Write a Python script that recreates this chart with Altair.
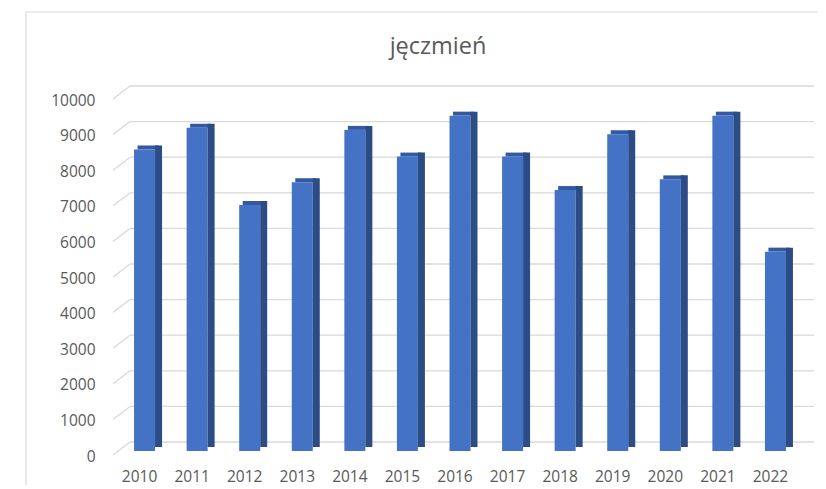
import altair as alt
import pandas as pd

# ---- data ----
years = ["2010", "2011", "2012", "2013", "2014", "2015", "2016",
         "2017", "2018", "2019", "2020", "2021", "2022"]
values = [8470, 9080, 6910, 7550, 9020, 8270, 9420,
          8270, 7330, 8900, 7630, 9420, 5600]
y_ticks = [0, 1000, 2000, 3000, 4000, 5000, 6000, 7000, 8000, 9000, 10000]
title_text = "jęczmień"

df = pd.DataFrame({"rok": years, "v": values})
ticks_df = pd.DataFrame({"t": y_ticks})
one = pd.DataFrame({"a": [0]})

W, H = 694, 356
FRONT = "#4472C4"
SIDE = "#2C4C86"
TOPC = "#3359A3"
GRID = "#D9D9D9"
TEXT = "#595959"
FONT = "Open Sans"

xscale = alt.Scale(domain=years, paddingInner=0, paddingOuter=0.1)
yscale = alt.Scale(domain=[0, 10000], nice=False, zero=True)

AX = alt.Axis(title=None, labelAngle=0, domain=False, ticks=False,
              labelPadding=18, labelOffset=-5, labelColor=TEXT,
              labelFont=FONT, labelFontSize=15.5)
AY = alt.Axis(title=None, values=y_ticks, format="d", grid=False,
              domain=False, ticks=False, labelPadding=18, labelOffset=5,
              labelColor=TEXT, labelFont=FONT, labelFontSize=15.5)

X_enc = alt.X("rok:N", scale=xscale, sort=None, axis=AX)
Y_enc = alt.Y("v:Q", scale=yscale, axis=AY)

border_left = alt.Chart(one).mark_rule(color=GRID, strokeWidth=1.2).encode(
    x=alt.value(-87), y=alt.value(-83), y2=alt.value(500))
border_top = alt.Chart(one).mark_rule(color=GRID, strokeWidth=1.2).encode(
    x=alt.value(-87), x2=alt.value(800), y=alt.value(-83))

grid = alt.Chart(ticks_df).mark_rule(color=GRID, strokeWidth=1.3, yOffset=-9, y2Offset=-9).encode(
    y=alt.Y("t:Q", scale=yscale, axis=AY),
    y2=alt.Y2("t"),
    x=alt.value(17), x2=alt.value(701))

slants = alt.Chart(ticks_df).mark_rule(color=GRID, strokeWidth=1.3, yOffset=4, y2Offset=-9).encode(
    y=alt.Y("t:Q", scale=yscale, axis=AY),
    y2=alt.Y2("t"),
    x=alt.value(0), x2=alt.value(17))

top_face = alt.Chart(df).mark_bar(color=TOPC, width=21, xOffset=3.5, yOffset=-4, y2Offset=0).encode(
    x=X_enc, y=Y_enc, y2=alt.Y2("v"))

front = alt.Chart(df).mark_bar(color=FRONT, width=21).encode(x=X_enc, y=Y_enc)

side = alt.Chart(df).mark_bar(color=SIDE, width=7, xOffset=14, yOffset=-4, y2Offset=-2).encode(
    x=X_enc, y=Y_enc)

title = alt.Chart(one).mark_text(text=title_text, font=FONT, fontSize=23.5, color=TEXT,
                                 baseline="alphabetic", align="center").encode(
    x=alt.value(325), y=alt.value(-41))

chart = alt.layer(border_left, border_top, grid, slants, top_face, front, side, title).properties(
    width=W, height=H,
    autosize="none",
    padding={"left": 105, "top": 87, "right": 11, "bottom": 34},
).configure_view(stroke=None)

chart.save("out.html", embed_options={"renderer": "svg", "actions": False})
